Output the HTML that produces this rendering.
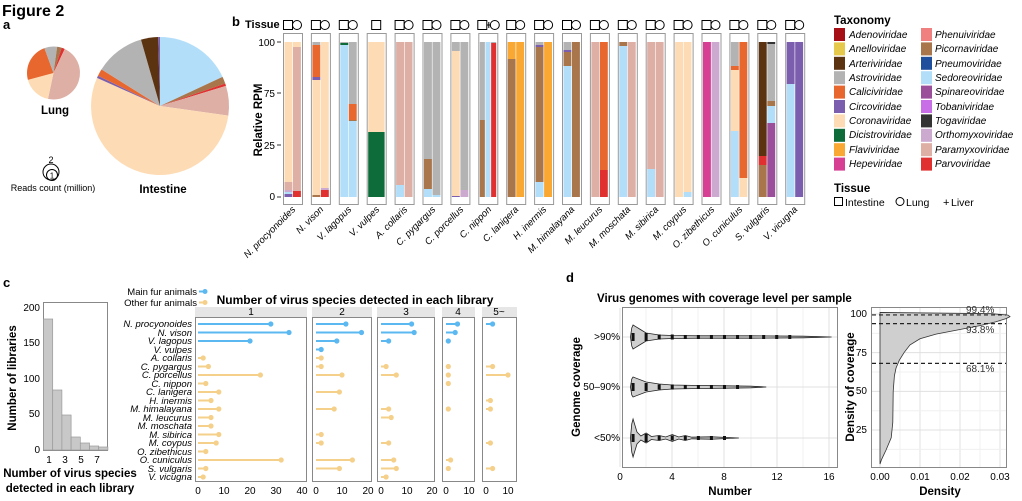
<!DOCTYPE html>
<html><head><meta charset="utf-8"><style>
html,body{margin:0;padding:0;background:#fff}
svg{display:block;font-family:"Liberation Sans",sans-serif}
.it{font-style:italic}
.b{font-weight:bold}
</style></head><body>
<svg id="s" width="1022" height="501" viewBox="0 0 1022 501" xmlns="http://www.w3.org/2000/svg">
<rect width="1022" height="501" fill="#fff"/>
<g id="shapes"></g>
<!-- panel a text -->
<text x="2" y="16" font-size="16" class="b">Figure 2</text>
<text x="3" y="29" font-size="13" class="b">a</text>
<text x="55" y="114" font-size="11.5" class="b" text-anchor="middle">Lung</text>
<text x="163" y="193" font-size="11.5" class="b" text-anchor="middle">Intestine</text>
<circle cx="51" cy="172" r="8" fill="none" stroke="#000" stroke-width="1"/>
<circle cx="52" cy="175" r="5.5" fill="none" stroke="#000" stroke-width="1"/>
<text x="51" y="163" font-size="9" text-anchor="middle">2</text>
<text x="52" y="178.5" font-size="8" text-anchor="middle">1</text>
<text x="53" y="191" font-size="9" text-anchor="middle">Reads count (million)</text>
<!-- panel b text -->
<text x="232" y="26" font-size="13" class="b">b</text>
<text x="245" y="28" font-size="11" class="b">Tissue</text>
<g font-size="10" text-anchor="end">
<text x="275" y="46">100</text><text x="275" y="97">75</text><text x="275" y="149">25</text><text x="275" y="200">0</text>
</g>
<text transform="translate(262,120) rotate(-90)" font-size="11.5" class="b" text-anchor="middle">Relative RPM</text>
<g font-size="9.5" class="it" text-anchor="end">
<text transform="translate(296,210) rotate(-45)">N. procyonoides</text>
<text transform="translate(324,210) rotate(-45)">N. vison</text>
<text transform="translate(352,210) rotate(-45)">V. lagopus</text>
<text transform="translate(380,210) rotate(-45)">V. vulpes</text>
<text transform="translate(408,210) rotate(-45)">A. collaris</text>
<text transform="translate(436,210) rotate(-45)">C. pygargus</text>
<text transform="translate(464,210) rotate(-45)">C. porcellus</text>
<text transform="translate(492,210) rotate(-45)">C. nippon</text>
<text transform="translate(519,210) rotate(-45)">C. lanigera</text>
<text transform="translate(547,210) rotate(-45)">H. inermis</text>
<text transform="translate(575,210) rotate(-45)">M. himalayana</text>
<text transform="translate(603,210) rotate(-45)">M. leucurus</text>
<text transform="translate(631,210) rotate(-45)">M. moschata</text>
<text transform="translate(659,210) rotate(-45)">M. sibirica</text>
<text transform="translate(687,210) rotate(-45)">M. coypus</text>
<text transform="translate(715,210) rotate(-45)">O. zibethicus</text>
<text transform="translate(743,210) rotate(-45)">O. cuniculus</text>
<text transform="translate(770,210) rotate(-45)">S. vulgaris</text>
<text transform="translate(798,210) rotate(-45)">V. vicugna</text>
</g>
<!-- legend -->
<text x="834" y="24" font-size="11.5" class="b">Taxonomy</text>
<g font-size="10" class="it">
<text x="849" y="38">Adenoviridae</text><text x="849" y="52">Anelloviridae</text><text x="849" y="67">Arteriviridae</text><text x="849" y="81">Astroviridae</text><text x="849" y="95">Caliciviridae</text><text x="849" y="110">Circoviridae</text><text x="849" y="124">Coronaviridae</text><text x="849" y="138">Dicistroviridae</text><text x="849" y="153">Flaviviridae</text><text x="849" y="167">Hepeviridae</text>
<text x="935" y="38">Phenuiviridae</text><text x="935" y="52">Picornaviridae</text><text x="935" y="67">Pneumoviridae</text><text x="935" y="81">Sedoreoviridae</text><text x="935" y="95">Spinareoviridae</text><text x="935" y="110">Tobaniviridae</text><text x="935" y="124">Togaviridae</text><text x="935" y="138">Orthomyxoviridae</text><text x="935" y="153">Paramyxoviridae</text><text x="935" y="167">Parvoviridae</text>
</g>
<text x="834" y="192" font-size="11.5" class="b">Tissue</text>
<rect x="834.5" y="197.5" width="8" height="8" fill="none" stroke="#000"/>
<text x="845" y="206" font-size="10.5">Intestine</text>
<circle cx="900" cy="201.5" r="4" fill="none" stroke="#000"/>
<text x="906" y="206" font-size="10.5">Lung</text>
<text x="943" y="206" font-size="11">+</text>
<text x="951" y="206" font-size="10.5">Liver</text>
<!-- panel c -->
<text x="3" y="287" font-size="13" class="b">c</text>
<g font-size="10" text-anchor="end">
<text x="40" y="311">200</text><text x="40" y="346">150</text><text x="40" y="382">100</text><text x="40" y="417">50</text><text x="40" y="453">0</text>
</g>
<g font-size="10" text-anchor="middle">
<text x="49" y="463">1</text><text x="65" y="463">3</text><text x="81" y="463">5</text><text x="97" y="463">7</text>
</g>
<text transform="translate(16,378) rotate(-90)" font-size="11.5" class="b" text-anchor="middle">Number of libraries</text>
<text x="70" y="477" font-size="11.5" class="b" text-anchor="middle">Number of virus species</text>
<text x="70" y="492" font-size="11.5" class="b" text-anchor="middle">detected in each library</text>
<text x="197" y="295" font-size="9.5" text-anchor="end">Main fur animals</text>
<text x="197" y="306" font-size="9.5" text-anchor="end">Other fur animals</text>
<text x="355" y="304" font-size="12" class="b" text-anchor="middle">Number of virus species detected in each library</text>
<g font-size="10" text-anchor="middle">
<text x="251" y="315">1</text><text x="342" y="315">2</text><text x="406" y="315">3</text><text x="458" y="315">4</text><text x="499" y="315">5~</text>
</g>
<g font-size="9.5" class="it" text-anchor="end">
<text x="192" y="327">N. procyonoides</text><text x="192" y="336">N. vison</text><text x="192" y="344">V. lagopus</text><text x="192" y="353">V. vulpes</text><text x="192" y="361">A. collaris</text><text x="192" y="370">C. pygargus</text><text x="192" y="378">C. porcellus</text><text x="192" y="387">C. nippon</text><text x="192" y="395">C. lanigera</text><text x="192" y="404">H. inermis</text><text x="192" y="412">M. himalayana</text><text x="192" y="421">M. leucurus</text><text x="192" y="429">M. moschata</text><text x="192" y="438">M. sibirica</text><text x="192" y="446">M. coypus</text><text x="192" y="455">O. zibethicus</text><text x="192" y="463">O. cuniculus</text><text x="192" y="472">S. vulgaris</text><text x="192" y="480">V. vicugna</text>
</g>
<g font-size="10" text-anchor="middle">
<text x="198" y="494">0</text><text x="224" y="494">10</text><text x="250" y="494">20</text><text x="276" y="494">30</text><text x="302" y="494">40</text>
<text x="316" y="494">0</text><text x="342" y="494">10</text><text x="368" y="494">20</text>
<text x="381" y="494">0</text><text x="407" y="494">10</text><text x="432" y="494">20</text>
<text x="446" y="494">0</text><text x="469" y="494">10</text>
<text x="486" y="494">0</text><text x="508" y="494">10</text>
</g>
<!-- panel d -->
<text x="566" y="282" font-size="13" class="b">d</text>
<text x="597" y="302" font-size="11.5" class="b">Virus genomes with coverage level per sample</text>
<g font-size="10" text-anchor="end">
<text x="620" y="340">&gt;90%</text><text x="620" y="390">50–90%</text><text x="620" y="441">&lt;50%</text>
</g>
<text transform="translate(580,387) rotate(-90)" font-size="11.5" class="b" text-anchor="middle">Genome coverage</text>
<g font-size="10" text-anchor="middle">
<text x="620" y="480">0</text><text x="672" y="480">4</text><text x="724" y="480">8</text><text x="777" y="480">12</text><text x="829" y="480">16</text>
</g>
<text x="730" y="495" font-size="11.5" class="b" text-anchor="middle">Number</text>
<g font-size="10" text-anchor="end">
<text x="867" y="317">100</text><text x="867" y="356">75</text><text x="867" y="394">50</text><text x="867" y="433">25</text>
</g>
<text transform="translate(854,387) rotate(-90)" font-size="11.5" class="b" text-anchor="middle">Density of coverage</text>
<g font-size="10" text-anchor="middle">
<text x="880" y="480">0.00</text><text x="920" y="480">0.01</text><text x="960" y="480">0.02</text><text x="1000" y="480">0.03</text>
</g>
<text x="940" y="495" font-size="11.5" class="b" text-anchor="middle">Density</text>
<g font-size="10" fill="#333">
<text x="966" y="313">99.4%</text><text x="966" y="333">93.8%</text><text x="966" y="372">68.1%</text>
</g>
<script>
(function(){
var NS="http://www.w3.org/2000/svg",G=document.getElementById("shapes");
function el(t,a){var e=document.createElementNS(NS,t);for(var k in a)e.setAttribute(k,a[k]);G.appendChild(e);return e;}
var C={ad:"#a50f15",an:"#e6c84a",ar:"#5c3311",as:"#b3b3b3",ca:"#e8672e",ci:"#7b5fae",co:"#fddcb5",di:"#0e6b3a",fl:"#f9a833",he:"#d63f93",ph:"#f08080",pi:"#a8764a",pn:"#1f4e9c",se:"#b3defa",sp:"#9b4f9b",to:"#c86ee6",tg:"#333333",or:"#ccaad0",pa:"#deafa5",pv:"#e03030"};
function pie(cx,cy,r,sl){sl.forEach(function(s){var a0=(s[1]-90)*Math.PI/180,a1=(s[2]-90)*Math.PI/180;
var x0=cx+r*Math.cos(a0),y0=cy+r*Math.sin(a0),x1=cx+r*Math.cos(a1),y1=cy+r*Math.sin(a1);
el("path",{d:"M"+cx+","+cy+"L"+x0+","+y0+"A"+r+","+r+" 0 "+((s[2]-s[1])>180?1:0)+" 1 "+x1+","+y1+"Z",fill:C[s[0]]});});}
pie(160,106,69,[["se",0,65],["pi",65,71],["pv",71,73],["pa",73,98],["co",98,294],["ci",294,296],["ca",296,302],["as",302,344],["ar",344,358.5],["ci",358.5,360]]);
pie(53.5,73,26.5,[["as",0,8],["pi",8,18],["pv",18,25],["pa",25,192],["co",192,255],["ca",255,340],["as",340,360]]);
var P=[
[[["ci",194],["se",192],["or",190],["pa",182],["co",42]],[["pv",191],["pa",47],["co",42]]],
[[["pi",195],["co",80],["ci",77],["ca",45],["as",42]],[["pv",190],["or",188],["co",42]]],
[[["se",45],["di",43],["as",42]],[["se",121],["pi",120],["ca",104],["as",42]]],
[[["di",132],["co",42]]],
[[["se",185],["pa",42]],[["pa",42]]],
[[["se",189],["pi",159],["as",42]],[["se",195],["as",42]]],
[[["ci",196],["co",51],["as",42]],[["or",190],["as",42]]],
[[["pi",120],["as",42]],[["se",42]],[["pv",43],["as",42]]],
[[["pi",59],["fl",42]],[["fl",42]]],
[[["se",182],["pi",47],["ci",45],["as",42]],[["fl",42]]],
[[["se",66],["pi",52],["ci",50],["as",42]],[["pi",42]]],
[[["pa",42]],[["pv",170],["ca",42]]],
[[["se",46],["pi",42]],[["pa",42]]],
[[["se",169],["pa",42]],[["pa",42]]],
[[["co",42]],[["se",192],["co",42]]],
[[["he",42]],[["or",42]]],
[[["se",131],["co",70],["ca",66],["as",42]],[["co",178],["ca",42]]],
[[["pi",165],["pv",156],["ar",42]],[["sp",123],["se",106],["pi",101],["as",44],["tg",42]]],
[[["se",84],["ci",42]],[["ci",42]]]];
P.forEach(function(p,i){var x=283+i*27.9,w=19;
el("rect",{x:x+.5,y:33.5,width:w,height:171,fill:"#fff",stroke:"#999","stroke-width":1});
var n=p.length,bw=(w-2)/n;
p.forEach(function(b,j){var bot=197,bx=x+1.5+j*bw;b.forEach(function(s){el("rect",{x:bx,y:s[1],width:bw-0.6,height:bot-s[1],fill:C[s[0]]});bot=s[1];});});
var cx=x+w/2;
if(i==3){el("rect",{x:cx-4.5,y:20.5,width:9,height:9,fill:"none",stroke:"#000"});}
else if(i==7){el("rect",{x:cx-10,y:20.5,width:9,height:9,fill:"none",stroke:"#000"});el("path",{d:"M"+(cx-1)+",25H"+(cx+3)+"M"+(cx+1)+",22V28",stroke:"#000"});el("circle",{cx:cx+7,cy:25,r:4.5,fill:"none",stroke:"#000"});}
else{el("rect",{x:cx-9,y:20.5,width:9,height:9,fill:"none",stroke:"#000"});el("circle",{cx:cx+4.5,cy:25,r:4.5,fill:"none",stroke:"#000"});}
});
[42,93,145,197].forEach(function(y){el("line",{x1:277,x2:281,y1:y,y2:y,stroke:"#333"});});
var L1=["ad","an","ar","as","ca","ci","co","di","fl","he"],L2=["ph","pi","pn","se","sp","to","tg","or","pa","pv"];
for(var k=0;k<10;k++){el("rect",{x:834,y:28+k*14.4,width:11,height:13,fill:C[L1[k]]});el("rect",{x:921,y:28+k*14.4,width:11,height:13,fill:C[L2[k]]});}
el("rect",{x:43.5,y:302.5,width:64,height:148,fill:"#fff",stroke:"#888"});
[319,390,415,437,443,446,447].forEach(function(t,k){el("rect",{x:43.5+k*9.2,y:t,width:9.2,height:450-t,fill:"#c8c8c8",stroke:"#999","stroke-width":.7});});
var F=[[195,307,198,2.6],[312,372,316,2.6],[377,435,381,2.55],[442,475,446,2.3],[482,517,486,2.2]];
F.forEach(function(f){el("rect",{x:f[0],y:307,width:f[1]-f[0],height:10,fill:"#e6e6e6"});el("rect",{x:f[0]+.5,y:317.5,width:f[1]-f[0]-1,height:164,fill:"#fff",stroke:"#888"});});
var V=[
[28,35,20,0,2,4,24,3,8,5,8,5,5,8,7,3,32,3,2],
[11.5,17.5,8,2,2,2,10,0,9,0,7,0,0,2,2,0,14,9,0],
[12,13,3,0,0,2,6,0,0,0,3,4,0,0,3,0,5,6,2],
[5,4,1,0,0,1,1,1,0,0,1,0,0,0,0,0,2,1,0],
[3,0,0,0,0,3,10,0,0,2,2,0,0,0,2,0,0,3,0]];
V.forEach(function(v,fi){var f=F[fi];v.forEach(function(val,r){if(!val)return;var y=324+r*8.5,c=r<4?"#5bb8f0":"#f5d08a",xe=f[2]+val*f[3];
el("line",{x1:f[2],x2:xe,y1:y,y2:y,stroke:c,"stroke-width":2});el("circle",{cx:xe,cy:y,r:2.6,fill:c});});});
el("line",{x1:199,x2:205,y1:291.5,y2:291.5,stroke:"#5bb8f0","stroke-width":2});el("circle",{cx:205,cy:291.5,r:2.5,fill:"#5bb8f0"});
el("line",{x1:199,x2:205,y1:302.5,y2:302.5,stroke:"#f5d08a","stroke-width":2});el("circle",{cx:205,cy:302.5,r:2.5,fill:"#f5d08a"});
el("rect",{x:622.5,y:307.5,width:215,height:160,fill:"#fff",stroke:"#888"});
[620,646,672,698,724,751,777,803,829].forEach(function(x,k){el("line",{x1:x,x2:x,y1:308,y2:467,stroke:k%2?"#f0f0f0":"#e0e0e0"});});
[337,387,438].forEach(function(y){el("line",{x1:623,x2:837,y1:y,y2:y,stroke:"#e0e0e0"});});
function X(n){return 620+n*13.06;}
function violin(y,pts){var top="",bot="";pts.forEach(function(p,k){top+=(k?"L":"M")+X(p[0])+","+(y-p[1]);});
for(var k=pts.length-1;k>=0;k--)bot+="L"+X(pts[k][0])+","+(y+pts[k][1]);
el("path",{d:top+bot+"Z",fill:"#cfcfcf",stroke:"#222","stroke-width":.8});}
violin(337,[[0.8,0],[0.9,9],[1,12],[1.5,8],[2,4],[3,2],[4,1.5],[6,1.2],[10,1.2],[14,0.8],[16.2,0]]);
violin(387,[[0.8,0],[0.9,8],[1,10],[2,5],[3,3],[4,2],[6,1.5],[8,1.2],[10,0.8],[11.2,0]]);
violin(438,[[0.8,0],[0.9,14],[1,19],[1.3,6],[1.6,2],[2,5],[2.4,1.5],[3,2.5],[3.5,1],[4,3.5],[4.5,1],[5,2.5],[5.5,0.8],[7,1.2],[8,0.6],[9.1,0]]);
[[337,[1,2,3,4,5,6,7,8,9,10,11,12,13]],[387,[1,2,3,4,5,6,7,8,9]],[438,[1,2,3,4,5,6,7,8]]].forEach(function(r){r[1].forEach(function(n,k){var h=k<2?8:(k<4?5:4);el("rect",{x:X(n)-1.5,y:r[0]-h/2,width:3,height:h,fill:"#111"});});});
el("rect",{x:871.5,y:307.5,width:135,height:160,fill:"#fff",stroke:"#888"});
[880,900,920,940,960,980,1000].forEach(function(x,k){el("line",{x1:x,x2:x,y1:308,y2:467,stroke:k%2?"#f0f0f0":"#e0e0e0"});});
function Y(v){return 314+(100-v)*1.547;}
[100,87.5,75,62.5,50,37.5,25,12.5].forEach(function(v,k){el("line",{x1:872,x2:1006,y1:Y(v),y2:Y(v),stroke:k%2?"#f0f0f0":"#e0e0e0"});});
var D=[[0,3],[0.4,6],[1.5,12],[2.8,20],[3.2,30],[3.3,50],[3.6,60],[4,65],[4.8,70],[6,75],[7.5,80],[10,84],[14,87],[20,90],[25,92.5],[29,95],[31.5,97],[32.5,98.3],[32,99.3],[28,100.2],[0,101]];
var d="M880,"+Y(3);D.forEach(function(p){d+="L"+(880+p[0]*4)+","+Y(p[1]);});d+="Z";
el("path",{d:d,fill:"#cfcfcf",stroke:"#333","stroke-width":.8});
[99.4,93.8,68.1].forEach(function(v){el("line",{x1:872,x2:1006,y1:Y(v),y2:Y(v),stroke:"#222","stroke-width":1.2,"stroke-dasharray":"4,3"});});
})();
</script>
</svg>
</body></html>
